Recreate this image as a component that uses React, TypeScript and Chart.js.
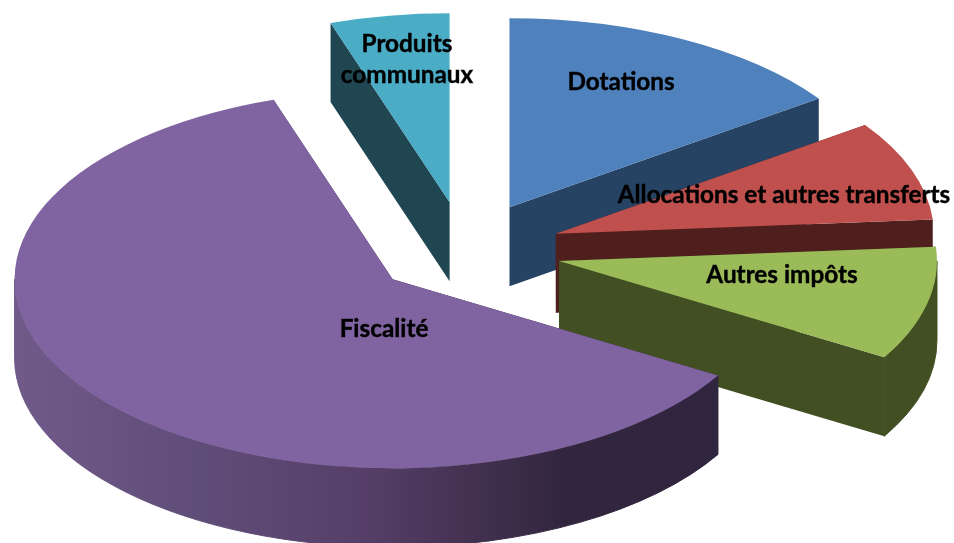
import React, { useEffect, useRef } from "react";
import { Chart, registerables } from "chart.js";

Chart.register(...registerables);

const categories = ["Dotations", "Allocations et autres transferts", "Autres impôts", "Fiscalité", ["Produits", "communaux"]];
const shares = [15.25, 8.55, 9.7, 61.4, 5.1];
const topColors = ["#4F81BD", "#C0504D", "#9BBB59", "#8064A2", "#4BACC6"];
const sideColors = ["#274363", "#4F1F1D", "#414F23", "#32263F", "#1F4651"];
const rimStops: any[][] = [
  [],
  [],
  [],
  [[0, "#6F5A8A"], [0.1, "#6A5583"], [0.27, "#604C78"], [0.5, "#553F68"], [0.66, "#42304F"], [0.78, "#32263F"], [1, "#30253E"]],
  [],
];
const labelCenters = [
  [621, 82],
  [784, 195],
  [782, 275],
  [384, 329],
  [407, 60],
];
const explode = [96.5, 96.5, 96.5, 93, 96.5];

const SQUASH = 0.5;
const DEPTH = 79;
const RADIUS = 378;
const LINE_HEIGHT = 31;

const pie3d = {
  id: "pie3d",
  beforeDatasetDraw(chart: any, args: any) {
    const { ctx } = chart;
    const arcs: any[] = args.meta.data;
    const items = arcs.map((arc, i) => {
      const mid = (arc.startAngle + arc.endAngle) / 2;
      return {
        arc,
        i,
        tx: arc.x + Math.cos(mid) * explode[i],
        ty: arc.y + Math.sin(mid) * explode[i] * SQUASH,
        sort: Math.sin(mid),
      };
    });
    items.sort((a, b) => a.sort - b.sort);
    for (const { arc, i, tx, ty } of items) {
      const r = arc.outerRadius;
      const px = (a: number) => tx + Math.cos(a) * r;
      const py = (a: number) => ty + Math.sin(a) * r * SQUASH;
      ctx.save();
      ctx.fillStyle = sideColors[i];
      for (const a of [arc.startAngle, arc.endAngle]) {
        ctx.beginPath();
        ctx.moveTo(tx, ty);
        ctx.lineTo(px(a), py(a));
        ctx.lineTo(px(a), py(a) + DEPTH);
        ctx.lineTo(tx, ty + DEPTH);
        ctx.closePath();
        ctx.fill();
      }
      // only the front half of the rim can be seen
      const from = Math.max(arc.startAngle, 0);
      const to = Math.min(arc.endAngle, Math.PI);
      if (to > from) {
        const stops = rimStops[i];
        let paint: any = sideColors[i];
        if (stops.length) {
          paint = ctx.createLinearGradient(tx - r, 0, px(arc.startAngle), 0);
          stops.forEach((s) => paint.addColorStop(s[0], s[1]));
        }
        ctx.fillStyle = paint;
        ctx.strokeStyle = paint;
        ctx.lineWidth = 1;
        ctx.beginPath();
        ctx.ellipse(tx, ty, r, r * SQUASH, 0, from, to);
        ctx.ellipse(tx, ty + DEPTH, r, r * SQUASH, 0, to, from, true);
        ctx.closePath();
        ctx.fill();
        ctx.stroke();
      }
      ctx.restore();

      ctx.save();
      ctx.translate(tx, ty);
      ctx.scale(1, SQUASH);
      ctx.translate(-arc.x, -arc.y);
      arc.draw(ctx);
      ctx.restore();
    }
    return false;
  },
  afterDatasetsDraw(chart: any) {
    const { ctx } = chart;
    ctx.save();
    ctx.font = 'bold 24.3px Lato, "Open Sans", sans-serif';
    ctx.fillStyle = "#000000";
    ctx.strokeStyle = "#000000";
    ctx.lineWidth = 0.4;
    ctx.textAlign = "center";
    ctx.textBaseline = "middle";
    (chart.data.labels as any[]).forEach((label, i) => {
      const lines = Array.isArray(label) ? label : [label];
      const [x, y] = labelCenters[i];
      lines.forEach((line: string, j: number) => {
        const ly = y + (j - (lines.length - 1) / 2) * LINE_HEIGHT;
        ctx.fillText(line, x, ly);
        ctx.strokeText(line, x, ly);
      });
    });
    ctx.restore();
  },
};

export default function App() {
  const ref = useRef<HTMLCanvasElement>(null);
  useEffect(() => {
    const chart = new Chart(ref.current!, {
      type: "pie",
      data: {
        labels: categories as any,
        datasets: [{ data: shares, backgroundColor: topColors, borderWidth: 0, hoverOffset: 0 }],
      },
      options: {
        responsive: false,
        animation: false,
        radius: RADIUS,
        layout: { padding: { top: 0, left: 0, right: 24, bottom: 43 } },
        events: [],
        plugins: { legend: { display: false }, tooltip: { enabled: false } },
      } as any,
      plugins: [pie3d as any],
    });
    return () => chart.destroy();
  }, []);
  return (
    <div style={{ position: "fixed", left: 0, top: 0, width: 954, height: 543, background: "#fff", overflow: "hidden" }}>
      <canvas ref={ref} width={954} height={543} style={{ display: "block", filter: "blur(0.5px)" }} />
    </div>
  );
}
